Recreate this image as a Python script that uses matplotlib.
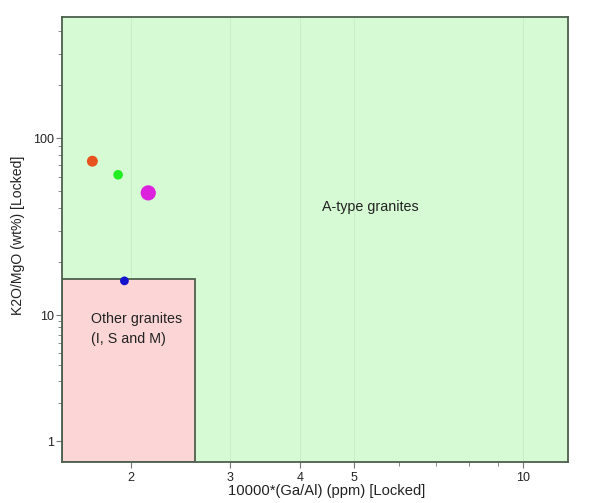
import numpy as np
import matplotlib
matplotlib.use("Agg")
import matplotlib.pyplot as plt
from matplotlib.patches import Rectangle
from matplotlib.ticker import FixedLocator, NullFormatter, FixedFormatter

plt.rcParams['font.family'] = ['Liberation Sans', 'DejaVu Sans']

# ---- data ----
ga_al = [1.71, 1.90, 2.15, 1.95]          # 10000*(Ga/Al)
k2o_mgo = [74.0, 62.0, 49.0, 15.6]        # K2O/MgO (wt%)
point_colors = ['#e8521e', '#22ee22', '#dd22dd', '#1414cc']
point_sizes = [62, 48, 120, 40]

ga_al_boundary = 2.6
k2o_mgo_boundary = 16.0
x_limits = [1.51, 12.0]
y_limits = [0.682, 483.0]

x_major = [2, 3, 4, 5, 10]
x_major_labels = ['2', '3', '4', '5', '10']
x_minor = [6, 7, 8, 9]
y_major = [1, 10, 100]
y_major_labels = ['1', '10', '100']
y_minor = [2, 3, 4, 5, 6, 7, 8, 9, 20, 30, 40, 50, 60, 70, 80, 90, 200, 300, 400]

# piecewise log scale (lower decade compressed, as in the reference)
K = 0.712

def fwd(y):
    y = np.asarray(y, dtype=float)
    t = np.log10(np.maximum(y, 1e-12))
    return np.where(t >= 1, t, 1 + (t - 1) * K)

def inv(f):
    f = np.asarray(f, dtype=float)
    t = np.where(f >= 1, f, 1 + (f - 1) / K)
    return 10 ** t

fig = plt.figure(figsize=(5.89, 5.03), dpi=100)
ax = fig.add_axes([62/589, 41/503, 506/589, 445/503])
ax.set_xscale('log')
ax.set_yscale('function', functions=(fwd, inv))
ax.set_xlim(*x_limits)
ax.set_ylim(*y_limits)

green = '#d6fbd4'
pink = '#fcd6d6'
edge = '#4d5f4d'
ax.add_patch(Rectangle((x_limits[0], y_limits[0]), x_limits[1] - x_limits[0],
                       y_limits[1] - y_limits[0], facecolor=green, edgecolor='none', zorder=0))
ax.add_patch(Rectangle((x_limits[0], y_limits[0]), ga_al_boundary - x_limits[0],
                       k2o_mgo_boundary - y_limits[0], facecolor=pink, edgecolor=edge,
                       linewidth=1.3, zorder=1))

# faint grid lines
for xv in x_major:
    ax.axvline(xv, color='#c8ecc6', lw=0.6, zorder=0.5)

ax.scatter(ga_al, k2o_mgo, s=point_sizes, c=point_colors, edgecolors='none', zorder=3)

ax.text(5.35, 41, 'A-type granites', ha='center', va='center', fontsize=10.3, color='#222222')
ax.text(1.697, 7.75, 'Other granites\n(I, S and M)', ha='left', va='center', fontsize=10.3,
        color='#222222', linespacing=1.5)

ax.xaxis.set_major_locator(FixedLocator(x_major))
ax.xaxis.set_major_formatter(FixedFormatter(x_major_labels))
ax.xaxis.set_minor_locator(FixedLocator(x_minor))
ax.xaxis.set_minor_formatter(NullFormatter())
ax.yaxis.set_major_locator(FixedLocator(y_major))
ax.yaxis.set_major_formatter(FixedFormatter(y_major_labels))
ax.yaxis.set_minor_locator(FixedLocator(y_minor))
ax.yaxis.set_minor_formatter(NullFormatter())

ax.tick_params(which='major', length=4, width=0.8, color='#777777', labelsize=9,
               labelcolor='#222222')
ax.tick_params(axis='x', which='major', pad=3)
ax.tick_params(axis='y', which='major', pad=1.5)
ax.tick_params(which='minor', length=3, width=0.7, color='#888888')

for sp in ax.spines.values():
    sp.set_color(edge)
    sp.set_linewidth(1.3)

ax.set_xlabel('10000*(Ga/Al) (ppm) [Locked]', fontsize=10.6, color='#222222')
ax.set_ylabel('K2O/MgO (wt%) [Locked]', fontsize=10.1, color='#222222')
ax.xaxis.label.set_va('center')
ax.xaxis.set_label_coords(0.522, -0.065)
ax.yaxis.label.set_va('center')
ax.yaxis.set_label_coords(-0.087, 0.51)

fig.savefig('out.png', dpi=100)
